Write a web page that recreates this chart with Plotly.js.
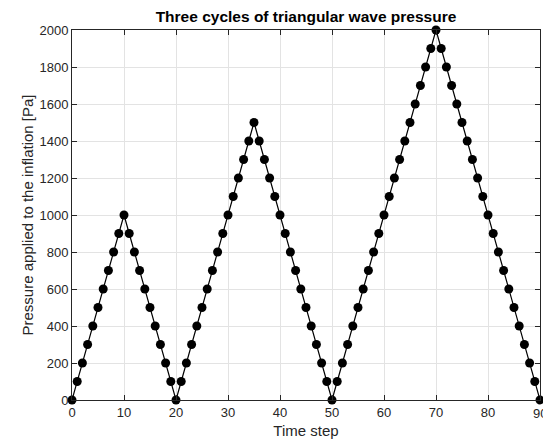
<!DOCTYPE html>
<html>
<head>
<meta charset="utf-8">
<script src="https://cdn.plot.ly/plotly-3.0.1.min.js"></script>
<style>html,body{margin:0;padding:0;background:#fff;}#chart{width:543px;height:446px;}</style>
</head>
<body>
<div id="chart"></div>
<script>
const timeStep = [0,1,2,3,4,5,6,7,8,9,10,11,12,13,14,15,16,17,18,19,20,21,22,23,24,25,26,27,28,29,30,31,32,33,34,35,36,37,38,39,40,41,42,43,44,45,46,47,48,49,50,51,52,53,54,55,56,57,58,59,60,61,62,63,64,65,66,67,68,69,70,71,72,73,74,75,76,77,78,79,80,81,82,83,84,85,86,87,88,89,90];
const pressure = [0,100,200,300,400,500,600,700,800,900,1000,
  900,800,700,600,500,400,300,200,100,0,
  100,200,300,400,500,600,700,800,900,1000,1100,1200,1300,1400,1500,
  1400,1300,1200,1100,1000,900,800,700,600,500,400,300,200,100,0,
  100,200,300,400,500,600,700,800,900,1000,1100,1200,1300,1400,1500,1600,1700,1800,1900,2000,
  1900,1800,1700,1600,1500,1400,1300,1200,1100,1000,900,800,700,600,500,400,300,200,100,0];
const xTicks = [0,10,20,30,40,50,60,70,80,90];
const yTicks = [0,200,400,600,800,1000,1200,1400,1600,1800,2000];

const font = 'Liberation Sans, Arial, Helvetica, sans-serif';
const txt = '#262626';
const axisCommon = {
  showline: true, mirror: 'ticks', linecolor: txt, linewidth: 1,
  ticks: 'inside', ticklen: 5, tickcolor: txt, tickwidth: 1,
  showgrid: true, gridcolor: '#e3e3e3', gridwidth: 1,
  zeroline: false, tickfont: {family: font, size: 13, color: txt}
};
const lastX = xTicks[xTicks.length - 1];
Plotly.newPlot('chart', [{
  x: timeStep, y: pressure, type: 'scatter', mode: 'lines+markers',
  line: {color: '#000', width: 1.2},
  marker: {color: '#000', size: 9},
  cliponaxis: false, showlegend: false
}], {
  width: 543, height: 446,
  margin: {l: 72, r: 3, t: 30, b: 46},
  paper_bgcolor: '#fff', plot_bgcolor: '#fff',
  title: {text: '<b>Three cycles of triangular wave pressure</b>', xref: 'paper', x: 0.5, xanchor: 'center',
    yref: 'container', y: 0.962, yanchor: 'middle',
    font: {family: font, size: 15.5, color: '#000'}},
  xaxis: Object.assign({}, axisCommon, {range: [0, 90], tickvals: xTicks,
    ticktext: xTicks.map(v => v === lastX ? '' : String(v)),
    title: {text: 'Time step', font: {family: font, size: 15, color: txt}, standoff: 6}}),
  yaxis: Object.assign({}, axisCommon, {range: [0, 2000], tickvals: yTicks, ticktext: yTicks.map(String),
    title: {text: 'Pressure applied to the inflation [Pa]', font: {family: font, size: 15, color: txt}, standoff: 2}}),
  annotations: [{x: lastX, xref: 'x', y: 0, yref: 'paper', yanchor: 'top', xanchor: 'center', yshift: -4,
    text: String(lastX), showarrow: false, font: {family: font, size: 13, color: txt}}]
}, {staticPlot: true});
</script>
</body>
</html>
